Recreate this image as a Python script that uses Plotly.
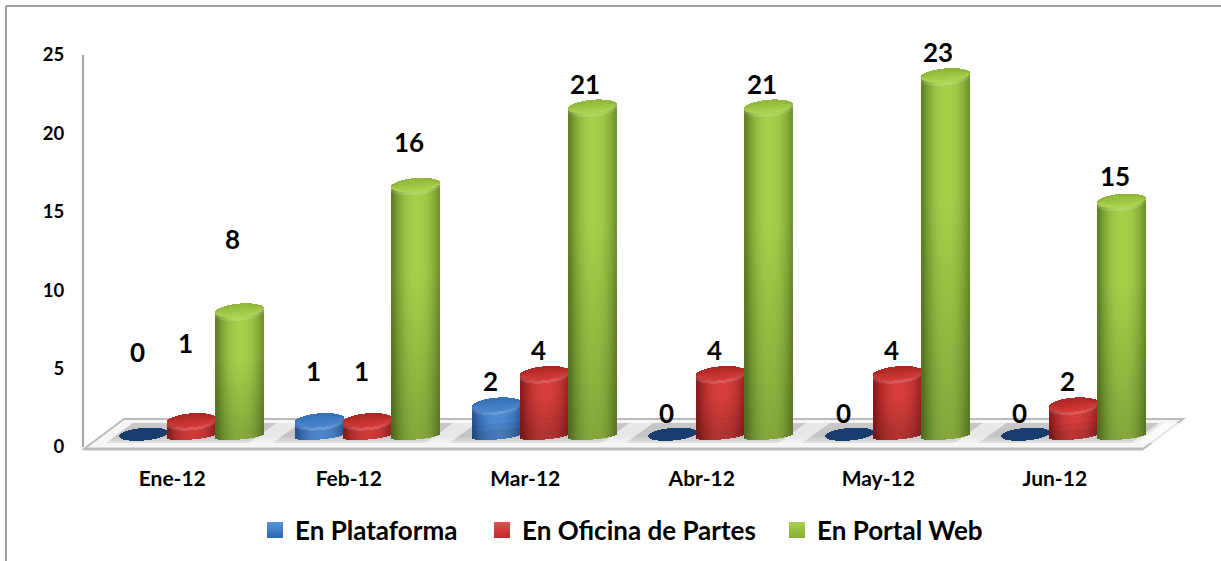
import math
import plotly.graph_objects as go

categories = ["Ene-12", "Feb-12", "Mar-12", "Abr-12", "May-12", "Jun-12"]
plataforma = [0, 1, 2, 0, 0, 0]
oficina = [1, 1, 4, 4, 4, 2]
portal = [8, 16, 21, 21, 23, 15]
series_names = ["En Plataforma", "En Oficina de Partes", "En Portal Web"]
y_ticks = [0, 5, 10, 15, 20, 25]

# label lifts (pixels above the bar top) and sideways nudges, one row per series
label_lift = [[84, 49, 23, 23, 23, 23], [77, 49, 23, 23, 23, 23], [71, 43, 22, 22, 23, 24]]
label_nudge = [-6, -6, -7]

W, H = 1221, 561
X0, X1, Y0, Y1 = 84, 1143, 447, 55
DX, DY = 19, 11.5
CAT_PX = (X1 - X0) / 6
UNIT_PX = (Y0 - Y1) / 25
BAR_PX = 48
E_PX = 7.0
BOTTOM_E_PX = 3.5
TILT_PX = 2.0
SEG_PX = 6
FONT = "Lato"

# edge colour, mid colour, cap back, cap front, zero disc
palette = [
    ((38, 84, 150), (80, 140, 212), (52, 108, 178), (72, 132, 204), (25, 60, 110)),
    ((140, 28, 28), (214, 62, 60), (165, 36, 36), (208, 56, 54), (120, 30, 30)),
    ((98, 132, 38), (166, 208, 74), (138, 176, 54), (172, 210, 80), (100, 130, 40)),
]


def mix(a, b, f):
    return tuple(a[i] + (b[i] - a[i]) * f for i in range(3))


def css(c):
    return "rgb(%d,%d,%d)" % tuple(round(v) for v in c)


def build_bars(values, s):
    edge, mid, cap_b, cap_f, disc = palette[s]
    xs, ys, bases, colors = [], [], [], []
    off = (s - 1) * BAR_PX / CAT_PX
    u = 1 / UNIT_PX

    def rect(x, lo, hi, col):
        xs.append(x)
        bases.append(lo)
        ys.append(hi - lo)
        colors.append(css(col))

    for i, v in enumerate(values):
        cx = i + 0.5 + off
        for px in range(BAR_PX):
            t = (px + 0.5 - BAR_PX / 2) / (BAR_PX / 2)
            round_t = math.sqrt(max(0, 1 - t * t))
            e = round_t * E_PX * u
            be = round_t * BOTTOM_E_PX * u
            tilt = t * TILT_PX * u
            x = cx + t * (BAR_PX / 2) / CAT_PX
            if v > 0:
                shade = 1 - abs(t - 0.08) ** 2.2
                top_col = mix(edge, mid, max(0, shade))
                low_col = mix(top_col, (0, 0, 0), 0.2)
                seg_n = max(1, int(v * UNIT_PX / SEG_PX))
                for k in range(seg_n):
                    f0, f1 = k / seg_n, (k + 1) / seg_n
                    lo = f0 * v if k else -be
                    rect(x, lo + tilt, f1 * v + tilt, mix(low_col, top_col, min(1, f1 * 1.5)))
                # soft light rim just under the cap
                rect(x, v - e - 3 * u + tilt, v - e + tilt, mix(top_col, (255, 255, 255), 0.14))
                # cap, darker towards the back
                layers = 5
                for k in range(layers):
                    f = k / layers
                    rect(x, v - e + 2 * e * f + tilt, v + e + tilt, mix(cap_f, cap_b, f))
            else:
                e0 = e * 0.9
                rect(x, -e0 + tilt + 1.8 * u, e0 + tilt + 1.8 * u, disc)
    return go.Bar(
        x=xs, y=ys, base=bases, width=[1.25 / CAT_PX] * len(xs),
        marker=dict(color=colors, line=dict(width=0)),
        xaxis="x2", yaxis="y2", showlegend=False, hoverinfo="skip",
    )


fig = go.Figure()
all_series = [plataforma, oficina, portal]
for s, vals in enumerate(all_series):
    fig.add_trace(build_bars(vals, s))

legend_colors = [(46, 102, 172), (190, 44, 44), (136, 172, 56)]
legend_tops = [(90, 150, 220), (225, 80, 78), (170, 208, 80)]
for s, name in enumerate(series_names):
    fig.add_trace(go.Scatter(
        x=[None], y=[None], mode="markers", name=name,
        marker=dict(symbol="square", size=16, color=css(legend_tops[s]),
                    gradient=dict(type="vertical", color=css(legend_colors[s]))),
        legend="legend" if s == 0 else "legend%d" % (s + 1),
    ))

annotations = []
for s, vals in enumerate(all_series):
    for i, v in enumerate(vals):
        annotations.append(dict(
            x=i + 0.5 + (s - 1) * BAR_PX / CAT_PX, y=v, xref="x2", yref="y2",
            text=str(v), showarrow=False, xanchor="center", yanchor="middle",
            xshift=label_nudge[s], yshift=label_lift[s][i],
            font=dict(family=FONT, size=26, color="#000000", weight=700),
        ))


def poly(pts):
    return "M " + " L ".join("%.5f,%.5f" % (x / W, 1 - y / H) for x, y in pts) + " Z"


shapes = []
FL, FR, BR, BL = (84, 449), (1143, 449), (1183, 419), (124, 419)
shapes.append(dict(type="path", xref="paper", yref="paper", layer="below", path=poly([FL, FR, BR, BL]),
                   fillcolor="#f6f6f6", line=dict(color="#bcbcbc", width=2)))
bands = 10
for k in range(bands):
    ya = 423 + k * 2
    yb = ya + 2
    xa_l = 84 + (449 - ya) * 40 / 30 + 14
    xb_l = 84 + (449 - yb) * 40 / 30 + 14
    xa_r = 1143 + (449 - ya) * 40 / 30 - 14
    xb_r = 1143 + (449 - yb) * 40 / 30 - 14
    g = 200 - k if k < 6 else 195 + (k - 6) * 9
    shapes.append(dict(type="path", xref="paper", yref="paper", layer="below",
                       path=poly([(xa_l, ya), (xa_r, ya), (xb_r, yb), (xb_l, yb)]),
                       fillcolor="rgb(%d,%d,%d)" % (g, g, g), line=dict(width=0)))
# pale diagonal streaks on the floor, between the groups
for i in range(1, 7):
    b = X0 + CAT_PX * i
    shapes.append(dict(type="path", xref="paper", yref="paper", layer="below",
                       path=poly([(b - 12, 443), (b + 12, 443), (b + 40, 423), (b + 16, 423)]),
                       fillcolor="rgba(255,255,255,0.6)", line=dict(width=0)))
shapes.append(dict(type="line", xref="paper", yref="paper", layer="below",
                   x0=84 / W, x1=1143 / W, y0=1 - 449 / H, y1=1 - 449 / H, line=dict(color="#bebebe", width=3)))
shapes.append(dict(type="line", xref="paper", yref="paper", x0=6 / W, x1=1, y0=1 - 6 / H, y1=1 - 6 / H,
                   line=dict(color="#a0a0a0", width=2)))
shapes.append(dict(type="line", xref="paper", yref="paper", x0=6 / W, x1=6 / W, y0=0, y1=1 - 6 / H,
                   line=dict(color="#a0a0a0", width=2)))

legend_font = dict(family=FONT, size=26, color="#000000", weight=700)
def leg(x):
    return dict(x=x / W, y=1 - 530 / H, xanchor="left", yanchor="middle", orientation="h",
                font=legend_font, bgcolor="rgba(0,0,0,0)", borderwidth=0, itemwidth=30)

BELOW = 2  # units of room under zero on the bar axis, so the round bases are not clipped
fig.update_layout(
    width=W, height=H, margin=dict(l=0, r=0, t=0, b=0, autoexpand=False), autosize=False,
    paper_bgcolor="white", plot_bgcolor="rgba(0,0,0,0)", barmode="overlay", bargap=0,
    showlegend=True, legend=leg(255), legend2=leg(482), legend3=leg(777),
    shapes=shapes, annotations=annotations,
    xaxis=dict(domain=[X0 / W, X1 / W], range=[0, 6], tickmode="array",
               tickvals=[i + 0.5 for i in range(6)], ticktext=categories, showgrid=False,
               zeroline=False, showline=False, ticks="", ticklabelstandoff=17,
               tickfont=dict(family=FONT, size=21, color="#000000", weight=700), anchor="y"),
    yaxis=dict(domain=[1 - Y0 / H, 1 - Y1 / H], range=[0, 25], tickmode="array", tickvals=y_ticks,
               showgrid=False, zeroline=False, showline=True, linecolor="#a6a6a6", linewidth=2,
               ticks="", ticklabelstandoff=14,
               tickfont=dict(family=FONT, size=18.5, color="#000000", weight=700), anchor="x"),
    xaxis2=dict(domain=[(X0 + DX) / W, (X1 + DX) / W], range=[0, 6], visible=False, anchor="y2"),
    yaxis2=dict(domain=[1 - (Y0 - DY + BELOW * UNIT_PX) / H, 1 - (Y1 - DY) / H], range=[-BELOW, 25],
                visible=False, anchor="x2"),
)

fig.write_html("out.html", config={"displayModeBar": False},
               post_script="document.body.style.margin='0';")
